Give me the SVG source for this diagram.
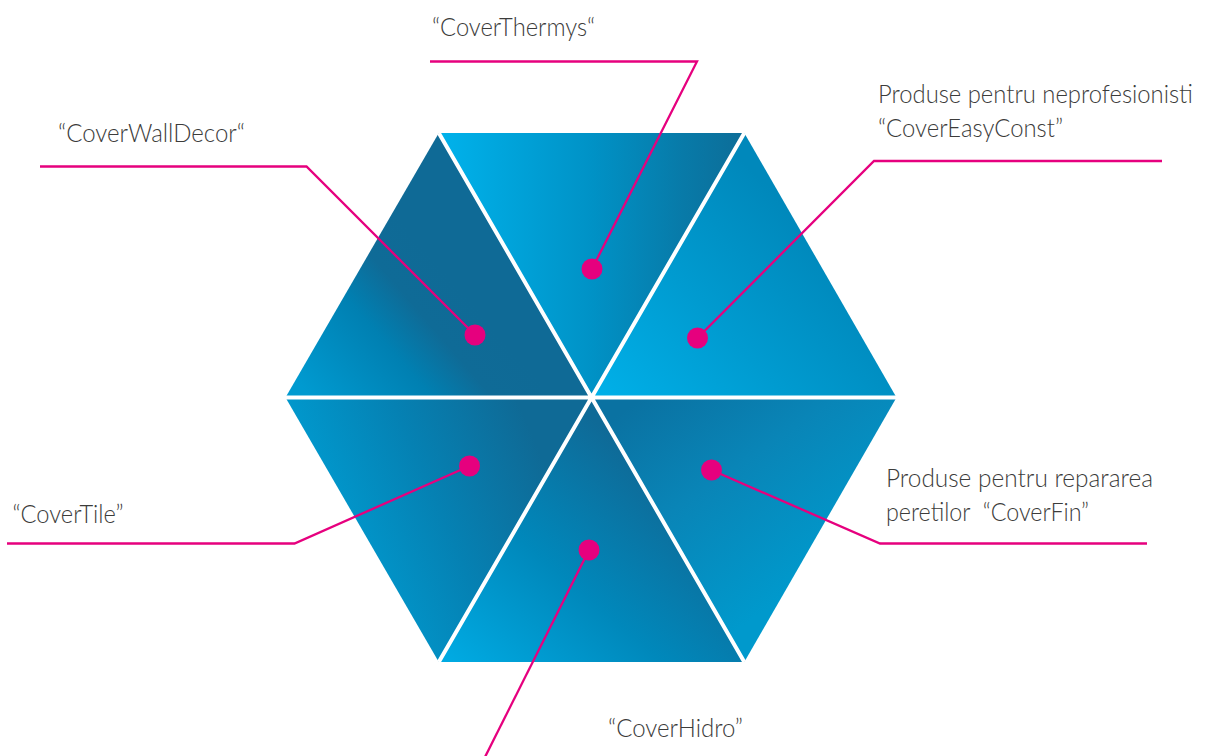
<svg xmlns="http://www.w3.org/2000/svg" width="1207" height="756" viewBox="0 0 1207 756">
<style>
.lbl{font-family:Lato,"Open Sans","Liberation Sans",sans-serif;font-weight:300;font-size:26px;fill:#3c3c3b;white-space:pre}
.sm{font-size:22px}
.con{fill:none;stroke:#e6007e;stroke-width:2.3;stroke-linejoin:miter}
.dot{fill:#e6007e}
.sep{stroke:#ffffff;stroke-width:4;fill:none}
</style>
<defs>
<linearGradient id="gTop" gradientUnits="userSpaceOnUse" x1="440" y1="200" x2="744" y2="200">
<stop offset="0" stop-color="#00b2eb"/><stop offset="0.5" stop-color="#0092c6"/><stop offset="0.8" stop-color="#087aa8"/><stop offset="1" stop-color="#0d6d98"/>
</linearGradient>
<linearGradient id="gTL" gradientUnits="userSpaceOnUse" x1="330" y1="420" x2="470" y2="300">
<stop offset="0" stop-color="#009ad0"/><stop offset="0.5" stop-color="#0080b2"/><stop offset="0.75" stop-color="#0f6b97"/><stop offset="1" stop-color="#0f6a96"/>
</linearGradient>
<linearGradient id="gTR" gradientUnits="userSpaceOnUse" x1="610" y1="400" x2="800" y2="220">
<stop offset="0" stop-color="#00afe7"/><stop offset="0.5" stop-color="#009bd0"/><stop offset="1" stop-color="#0088bb"/>
</linearGradient>
<linearGradient id="gBR" gradientUnits="userSpaceOnUse" x1="640" y1="400" x2="780" y2="600">
<stop offset="0" stop-color="#0a72a2"/><stop offset="0.45" stop-color="#0985b7"/><stop offset="1" stop-color="#0099cc"/>
</linearGradient>
<linearGradient id="gB" gradientUnits="userSpaceOnUse" x1="460" y1="670" x2="640" y2="460">
<stop offset="0" stop-color="#00aae2"/><stop offset="0.5" stop-color="#0088bb"/><stop offset="1" stop-color="#0f6a97"/>
</linearGradient>
<linearGradient id="gBL" gradientUnits="userSpaceOnUse" x1="320" y1="520" x2="530" y2="430">
<stop offset="0" stop-color="#009bd0"/><stop offset="0.5" stop-color="#0581b3"/><stop offset="1" stop-color="#0f6a96"/>
</linearGradient>
</defs>

<g id="hexagon">
<polygon id="tri-top" points="438.8,132.9 744.3,132.9 591,397.5" fill="url(#gTop)"/>
<polygon id="tri-topleft" points="438.8,132.9 591,397.5 285.5,397.5" fill="url(#gTL)"/>
<polygon id="tri-topright" points="744.3,132.9 896.5,397.5 591,397.5" fill="url(#gTR)"/>
<polygon id="tri-bottomright" points="591,397.5 896.5,397.5 744.3,662.1" fill="url(#gBR)"/>
<polygon id="tri-bottom" points="591,397.5 744.3,662.1 438.8,662.1" fill="url(#gB)"/>
<polygon id="tri-bottomleft" points="285.5,397.5 591,397.5 438.8,662.1" fill="url(#gBL)"/>
<path class="sep" d="M283,397.5 H899 M438.8,132.9 L744.3,662.1 M744.3,132.9 L438.8,662.1"/>
</g>

<g id="connectors">
<polyline class="con" points="430,61.5 697,61.5 592,269"/>
<polyline class="con" points="40,166.5 306.5,166.5 475,335"/>
<polyline class="con" points="1162,161 874,161 697.5,338"/>
<polyline class="con" points="1147,543.5 880,543.5 711.5,470"/>
<polyline class="con" points="7,543.5 294.5,543.5 469.5,466"/>
<polyline class="con" points="485,757 589,550"/>
</g>

<g id="node-thermys">
<circle class="dot" cx="592" cy="269" r="10.5"/>
<text class="lbl" x="432" y="36" textLength="163" lengthAdjust="spacingAndGlyphs">“CoverThermys“</text>
</g>
<g id="node-walldecor">
<circle class="dot" cx="475" cy="335" r="10.5"/>
<text class="lbl" x="58" y="142" textLength="187" lengthAdjust="spacingAndGlyphs">“CoverWallDecor“</text>
</g>
<g id="node-easyconst">
<circle class="dot" cx="697.5" cy="338" r="10.5"/>
<text class="lbl" x="878" y="103" textLength="315" lengthAdjust="spacingAndGlyphs" transform="translate(878 103) scale(1 1.18) translate(-878 -103)" style="font-size:22px">Produse pentru neprofesionisti</text>
<text class="lbl" x="878" y="137" textLength="185" lengthAdjust="spacingAndGlyphs">“CoverEasyConst”</text>
</g>
<g id="node-coverfin">
<circle class="dot" cx="711.5" cy="470" r="10.5"/>
<text class="lbl" x="886" y="487" textLength="267" lengthAdjust="spacingAndGlyphs">Produse pentru repararea</text>
<text class="lbl" x="886" y="521" textLength="203" lengthAdjust="spacingAndGlyphs">peretilor  “CoverFin”</text>
</g>
<g id="node-covertile">
<circle class="dot" cx="469.5" cy="466" r="10.5"/>
<text class="lbl" x="12.5" y="523" textLength="111" lengthAdjust="spacingAndGlyphs">“CoverTile”</text>
</g>
<g id="node-coverhidro">
<circle class="dot" cx="589" cy="550" r="10.5"/>
<text class="lbl" x="608" y="737" textLength="135" lengthAdjust="spacingAndGlyphs">“CoverHidro”</text>
</g>
</svg>
